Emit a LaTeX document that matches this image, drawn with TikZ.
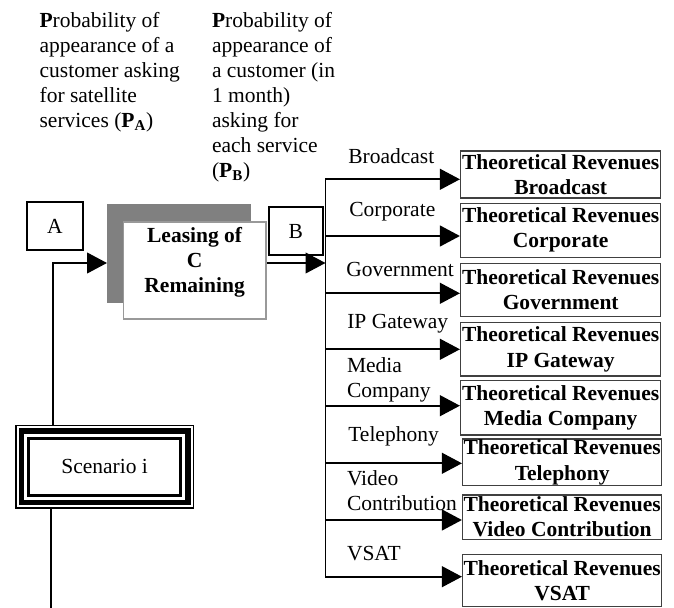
\documentclass[tikz,border=0pt]{standalone}
\usepackage{fontspec}
\setmainfont{Liberation Serif}
\usetikzlibrary{arrows.meta}
\begin{document}
\begin{tikzpicture}[x=0.651pt,y=-0.651pt,
  every node/.style={font=\fontsize{14pt}{16.3pt}\selectfont},
  txt/.style={inner sep=0pt, align=left},
  lbl/.style={inner sep=0pt, anchor=base west},
  arr/.style={line width=1.2pt, -{Triangle[length=13pt,width=13.5pt]}},
  ln/.style={line width=1.2pt},
  smallbox/.style={draw, line width=1.1pt, inner sep=0pt},
  revbox/.style={draw=black!75, line width=1pt, inner sep=0pt, align=center,
    font=\fontsize{14pt}{16.3pt}\selectfont\bfseries, minimum width=130.2pt},
]
\useasboundingbox (0,0) rectangle (674,608);

% annotations
\node[txt, anchor=north west] (pa) at (39.3,12) {\textbf{P}robability of\\appearance of a\\customer asking\\for satellite\\services (\textbf{P\textsubscript{A}})};
\node[txt, anchor=north west] (pb) at (211.7,12) {\textbf{P}robability of\\appearance of\\a customer (in\\1 month)\\asking for\\each service\\(\textbf{P\textsubscript{B}})};

% left part
\node[smallbox, minimum width=36.5pt, minimum height=31.25pt] (A) at (55,226) {A};
\node[fill=black!50, minimum width=93.55pt, minimum height=64.6pt, inner sep=0pt] (shadow) at (179.15,253.65) {};
\node[draw=black!40, line width=1pt, fill=white, minimum width=92.9pt, minimum height=63.3pt, inner sep=0pt] (leasing) at (194.65,270.35) {};
\node[inner sep=0pt, align=center, font=\fontsize{14pt}{16.3pt}\selectfont\bfseries, anchor=north] (leasingtxt) at (194.65,227) {Leasing of\\C\\Remaining};
\node[smallbox, minimum width=34.96pt, minimum height=31.25pt] (B) at (295.85,231) {B};

% scenario
\node[draw, line width=1.1pt, minimum width=115.7pt, minimum height=53.9pt, inner sep=0pt] (scen) at (104.65,466.9) {Scenario i};
\draw[line width=3.7pt] ([shift={(6.5,6.5)}]scen.north west) rectangle ([shift={(-6.5,-6.5)}]scen.south east);
\draw[line width=2pt] ([shift={(13.5,13.5)}]scen.north west) rectangle ([shift={(-13.5,-13.5)}]scen.south east);

% revenue boxes
\node[revbox, minimum height=30.6pt] (r1) at (560.7,174.5) {Theoretical Revenues\\Broadcast};
\node[revbox, minimum height=35.15pt] (r2) at (560.7,230.3) {Theoretical Revenues\\Corporate};
\node[revbox, minimum height=34.8pt] (r3) at (560.7,290) {Theoretical Revenues\\Government};
\node[revbox, minimum height=34.7pt] (r4) at (560.7,349.35) {Theoretical Revenues\\IP Gateway};
\node[revbox, minimum height=35.35pt] (r5) at (560.7,407.85) {Theoretical Revenues\\Media Company};
\node[revbox, minimum height=30.4pt, minimum width=129.55pt] (r6) at (562.2,462.35) {Theoretical Revenues\\Telephony};
\node[revbox, minimum height=28.84pt, minimum width=129.55pt] (r7) at (562.2,517.15) {Theoretical Revenues\\Video Contribution};
\node[revbox, minimum height=34.1pt, minimum width=129.55pt] (r8) at (562.2,580.5) {Theoretical Revenues\\VSAT};

% branch labels
\node[lbl] (l1) at (348,163.3) {Broadcast};
\node[lbl] (l2) at (349,216) {Corporate};
\node[lbl] (l3) at (346,276) {Government};
\node[lbl] (l4) at (347,328.3) {IP Gateway};
\node[txt, anchor=north west] (l5) at (346.7,357) {Media\\Company};
\node[lbl] (l6) at (348,441.7) {Telephony};
\node[txt, anchor=north west] (l7) at (346.7,470.3) {Video\\Contribution};
\node[lbl] (l8) at (346.7,560) {VSAT};

% coordinates
\coordinate (j1) at (53,263);
\coordinate (jb) at (51,608);
\coordinate (tTop) at (325.5,179.3);
\coordinate (tBot) at (325.5,576.7);
\coordinate (b1) at (325.5,179.3);
\coordinate (b2) at (325.5,236);
\coordinate (b3) at (325.5,293.3);
\coordinate (b4) at (325.5,349.3);
\coordinate (b5) at (325.5,405.7);
\coordinate (b6) at (325.5,463.3);
\coordinate (b7) at (325.5,520);
\coordinate (b8) at (325.5,576.7);

% connectors
\draw[arr] (scen.north -| j1) -- (j1) -- (j1 -| shadow.west);
\draw[ln] (scen.south -| jb) -- (jb);
\draw[arr] (leasing.east |- j1) -- (j1 -| tTop);
\draw[ln, line cap=rect] (tTop) -- (tBot);
\draw[arr] (b1) -- (b1 -| r1.west);
\draw[arr] (b2) -- (b2 -| r2.west);
\draw[arr] (b3) -- (b3 -| r3.west);
\draw[arr] (b4) -- (b4 -| r4.west);
\draw[arr] (b5) -- (b5 -| r5.west);
\draw[arr] (b6) -- (b6 -| r6.west);
\draw[arr] (b7) -- (b7 -| r7.west);
\draw[arr] (b8) -- (b8 -| r8.west);
\end{tikzpicture}
\end{document}
